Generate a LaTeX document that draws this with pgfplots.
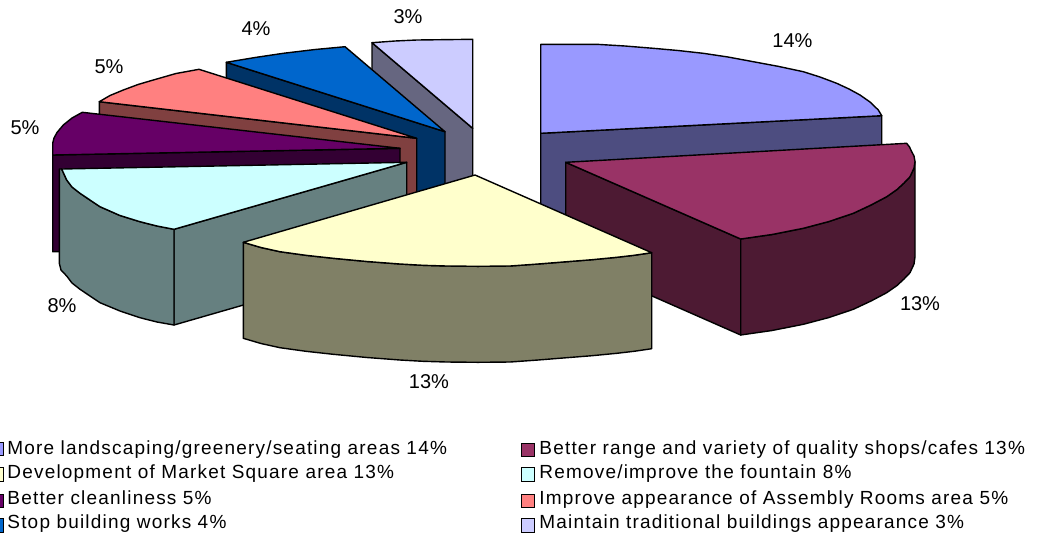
\documentclass[border=0pt]{standalone}
\usepackage{pgfplots}
\usepackage{fontspec}
\setmainfont{Liberation Sans}
\newfontfamily\keyfont[LetterSpace=6.3]{Liberation Sans}
\pgfplotsset{compat=1.18}
\pgfplotsset{
  face/.style={fill=#1,draw=black,line width=0.7pt,line join=round},
  key/.style={fill=#1,draw=black,line width=0.5pt},
}
\tikzset{keytext/.style={anchor=base west,inner sep=0pt,font=\fontsize{9.5}{11}\keyfont}}
\definecolor{periF}{HTML}{9999FF}\definecolor{periW}{HTML}{4D4D80}
\definecolor{marF}{HTML}{993366}\definecolor{marW}{HTML}{4D1A33}
\definecolor{yelF}{HTML}{FFFFCC}\definecolor{yelW}{HTML}{808066}
\definecolor{cyaF}{HTML}{CCFFFF}\definecolor{cyaW}{HTML}{668080}
\definecolor{purF}{HTML}{660066}\definecolor{purW}{HTML}{330033}
\definecolor{salF}{HTML}{FF8080}\definecolor{salW}{HTML}{804040}
\definecolor{bluF}{HTML}{0066CC}\definecolor{bluW}{HTML}{003366}
\definecolor{lavF}{HTML}{CCCCFF}\definecolor{lavW}{HTML}{666680}
\begin{document}
\begin{tikzpicture}
\begin{axis}[
  scale only axis,width=518.5pt,height=268.5pt,
  xmin=0,xmax=1037,ymin=0,ymax=537,y dir=reverse,
  axis line style={draw=none},tick style={draw=none},
  xtick=\empty,ytick=\empty,
  every node/.append style={font=\fontsize{9.2}{11}\selectfont,text=black!90},
]
% Maintain traditional buildings, 3%
\addplot[face=lavW] coordinates {(372,42.7)(472.7,128.3)(472.7,224)(372,138)} -- cycle;
\addplot[face=lavF] coordinates {(372,42.7)(395,41)(416.7,40)(472.7,39.3)(472.7,128.3)} -- cycle;
% Stop building works, 4%
\addplot[face=bluW] coordinates {(226.3,62.3)(445,131.7)(445,227.7)(226.3,158.3)} -- cycle;
\addplot[face=bluF] coordinates {(226.3,62.3)(255,57.5)(283.3,53.3)(315,49.5)(345,46.7)(445,131.7)} -- cycle;
% Assembly Rooms area, 5%
\addplot[face=salW] coordinates {(99.3,101.7)(416.7,138.3)(416.7,234)(99.3,197)} -- cycle;
\addplot[face=salF] coordinates {(99.3,101.7)(110,95.5)(123.3,90)(138,84.5)(153.3,80)(176,73.5)(199,69.3)(416.7,138.3)} -- cycle;
% Better cleanliness, 5%
\addplot[face=purW] coordinates {(52.7,155)(400,148.3)(400,244)(52.7,251.7)} -- cycle;
\addplot[face=purF] coordinates {(52.7,155)(52.7,143.3)(54,138)(57,132.5)(63.3,125)(72,118)(82.3,112.3)(400,148.3)} -- cycle;
% Remove or improve the fountain, 8%
\addplot[face=cyaW] coordinates {(174,229.3)(406.7,162.3)(406.7,258)(174,325)} -- cycle;
\addplot[face=cyaW] coordinates {(59.3,169)(61.7,169)(66.7,180)(72,187)(80,193.3)(100,206.7)(120,215.5)(140,221.7)(157,226)(174,229.3)(174,325)(157,322)(140,317.7)(120,311)(100,302.7)(80,289.3)(72,283)(66.7,276)(61,270)(59.3,263.3)} -- cycle;
\addplot[face=cyaF] coordinates {(61.7,169)(406.7,162.3)(174,229.3)(157,226)(140,221.7)(120,215.5)(100,206.7)(80,193.3)(72,187)(66.7,180)} -- cycle;
% More landscaping, 14%
\addplot[face=periW] coordinates {(540.7,133.3)(881.7,115.7)(881.7,211.7)(540.7,229.3)} -- cycle;
\addplot[face=periF] coordinates {(540.7,44.3)(596.7,44.3)(625,46)(653.3,48.3)(678,50.5)(703.3,53.3)(728,57)(753.3,61.7)(778,66.3)(803.3,71.7)(820,77)(836.7,83.3)(849,89)(860,95)(870,102)(878.3,110)(881.7,115.7)(540.7,133.3)} -- cycle;
% Better shops and cafes, 13%
\addplot[face=marW] coordinates {(565.7,162.3)(740.7,239)(740.7,335)(565.7,258)} -- cycle;
\addplot[face=marW] coordinates {(740.7,239)(772,234.5)(803.3,228.3)(829,221.5)(853.3,213.3)(871,205)(886.7,196.7)(897,189.5)(904,183)(910,176.7)(914,168)(915,161.7)(915,256.7)(914,264)(910,272.7)(904,279)(897,285.5)(886.7,292.7)(871,301)(853.3,309.3)(829,317.5)(803.3,324.3)(772,330.5)(740.7,335)} -- cycle;
\addplot[face=marF] coordinates {(565.7,162.3)(906.7,143.3)(909.5,147)(911.7,151.7)(914,156)(915,161.7)(914,168)(910,176.7)(904,183)(897,189.5)(886.7,196.7)(871,205)(853.3,213.3)(829,221.5)(803.3,228.3)(772,234.5)(740.7,239)} -- cycle;
% Market Square, 13%
\addplot[face=yelW] coordinates {(243.3,242.3)(261,247.5)(280,251.7)(306,255.3)(333.3,258.3)(367,261.5)(400,264)(423,265.3)(446.7,266)(478,266.3)(510,266)(538,264)(566.7,261.7)(592,259.7)(616.7,257.3)(634,255.3)(651.7,252.7)(651.7,348.7)(634,351.3)(616.7,353.3)(592,355.7)(566.7,357.7)(538,360)(510,362)(478,362.3)(446.7,362)(423,361.3)(400,360)(367,357.5)(333.3,354.3)(306,351.3)(280,347.7)(261,343.5)(243.3,338.3)} -- cycle;
\addplot[face=yelF] coordinates {(475,175)(651.7,252.7)(634,255.3)(616.7,257.3)(592,259.7)(566.7,261.7)(538,264)(510,266)(478,266.3)(446.7,266)(423,265.3)(400,264)(367,261.5)(333.3,258.3)(306,255.3)(280,251.7)(261,247.5)(243.3,242.3)} -- cycle;
% Legend keys
\addplot[key=periF] coordinates {(-6,442)(4,442)(4,455)(-6,455)} -- cycle;
\addplot[key=yelF] coordinates {(-6,467)(4,467)(4,481)(-6,481)} -- cycle;
\addplot[key=purF] coordinates {(-6,494)(4,494)(4,507)(-6,507)} -- cycle;
\addplot[key=bluF] coordinates {(-6,518)(4,518)(4,532)(-6,532)} -- cycle;
\addplot[key=marF] coordinates {(521,443)(534,443)(534,456.5)(521,456.5)} -- cycle;
\addplot[key=cyaF] coordinates {(521,467.5)(534,467.5)(534,481)(521,481)} -- cycle;
\addplot[key=salF] coordinates {(521,494.5)(534,494.5)(534,507)(521,507)} -- cycle;
\addplot[key=lavF] coordinates {(521,518.5)(534,518.5)(534,532)(521,532)} -- cycle;
% Percentage labels
\node at (axis cs:792.5,41) {14\%};
\node at (axis cs:920,303.5) {13\%};
\node at (axis cs:429,381.5) {13\%};
\node at (axis cs:62,306) {8\%};
\node at (axis cs:25,128) {5\%};
\node at (axis cs:109,66.5) {5\%};
\node at (axis cs:256,29) {4\%};
\node at (axis cs:408,16.5) {3\%};
% Legend text
\node[keytext] at (axis cs:7,454.5) {More landscaping/greenery/seating areas 14\%};
\node[keytext] at (axis cs:7,478) {Development of Market Square area 13\%};
\node[keytext] at (axis cs:7,504.5) {Better cleanliness 5\%};
\node[keytext] at (axis cs:7,528.5) {Stop building works 4\%};
\node[keytext] at (axis cs:539,454.5) {Better range and variety of quality shops/cafes 13\%};
\node[keytext] at (axis cs:539,478) {Remove/improve the fountain 8\%};
\node[keytext] at (axis cs:539,504.5) {Improve appearance of Assembly Rooms area 5\%};
\node[keytext] at (axis cs:539,528.5) {Maintain traditional buildings appearance 3\%};
\end{axis}
\end{tikzpicture}
\end{document}
